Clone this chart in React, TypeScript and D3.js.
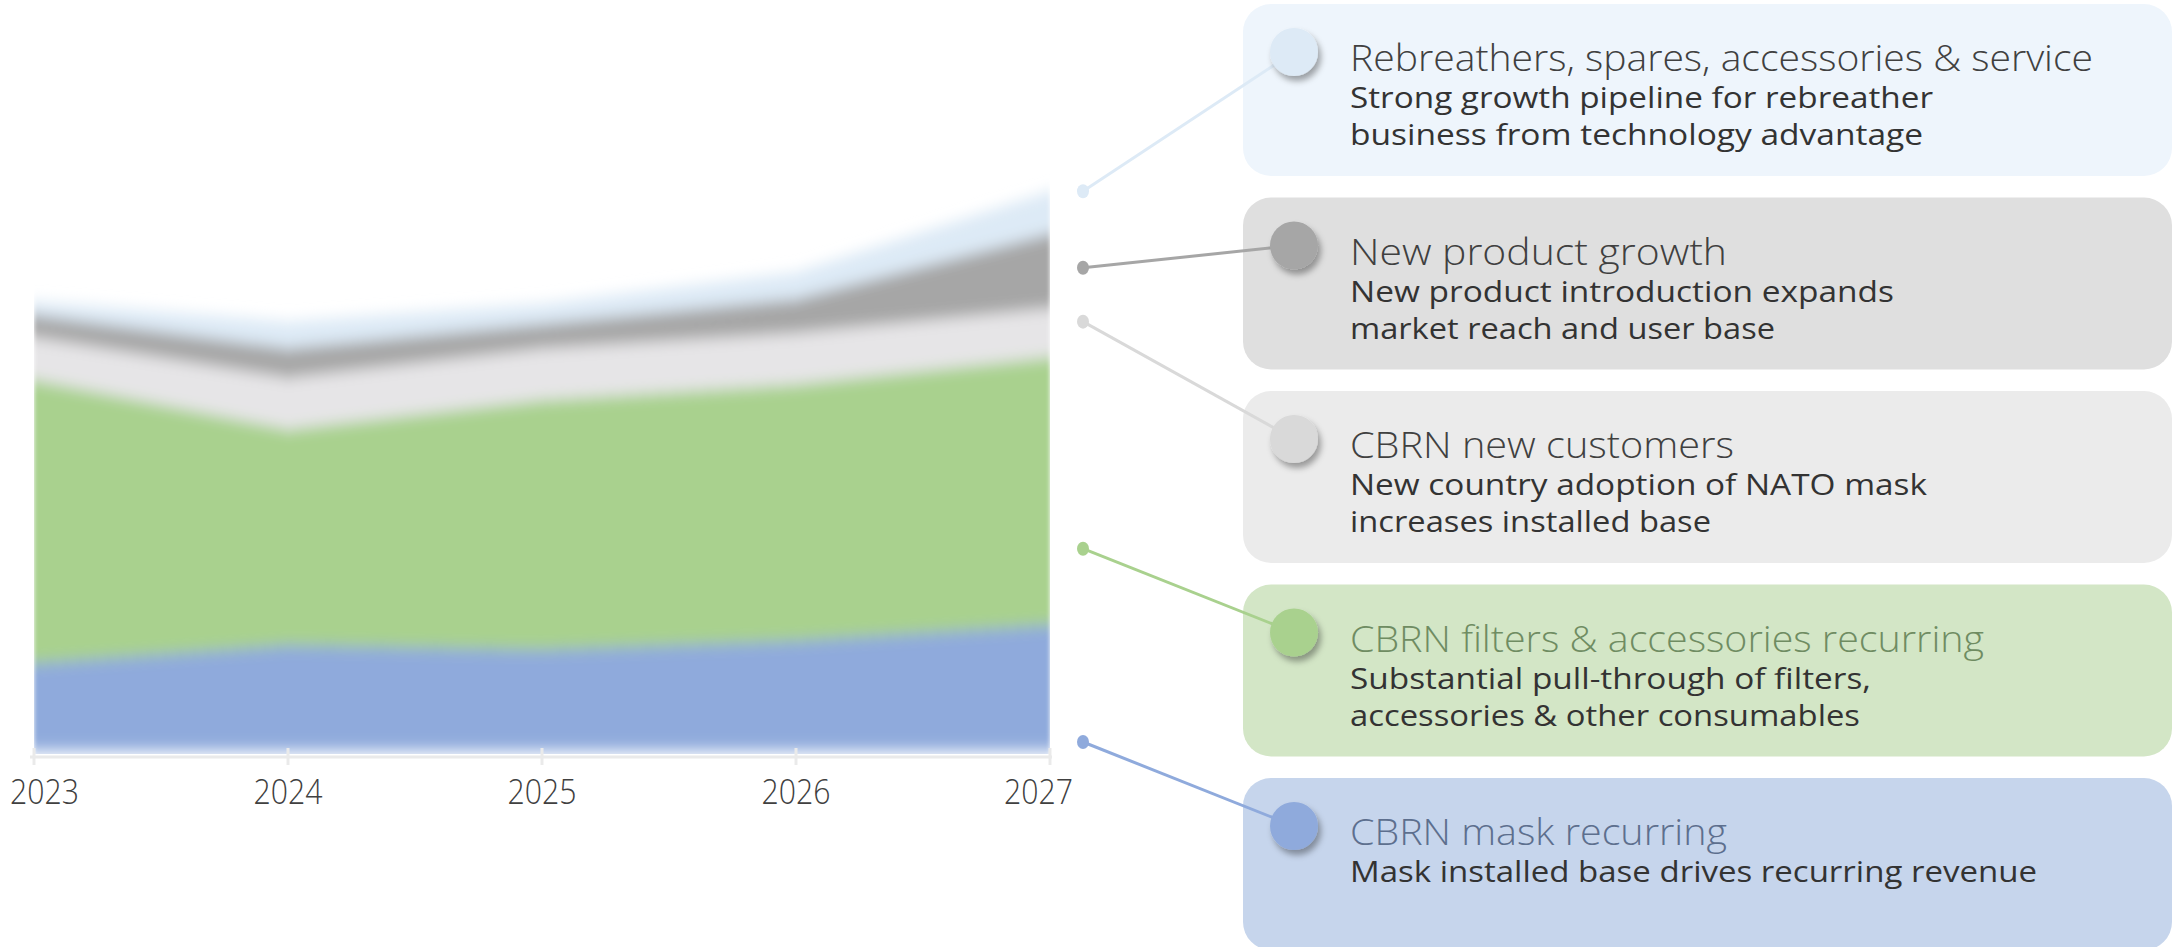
import React from 'react';
import * as d3 from 'd3';

// values (arbitrary revenue units), bottom of stack first
const years = [2023, 2024, 2025, 2026, 2027];
const maskRecurring = [19.5, 23.5, 22.5, 24.5, 28];
const filtersRecurring = [63, 48, 55.5, 57, 59.5];
const newCustomers = [9.5, 11.5, 11.5, 11.5, 11];
const newProduct = [5, 6.5, 5.5, 7.5, 16.5];
const rebreathers = [3, 6, 4.5, 6, 9.5];

// legend, top to bottom
const legendTitles = [
  'Rebreathers, spares, accessories & service',
  'New product growth',
  'CBRN new customers',
  'CBRN filters & accessories recurring',
  'CBRN mask recurring',
];
const legendText = [
  ['Strong growth pipeline for rebreather', 'business from technology advantage'],
  ['New product introduction expands', 'market reach and user base'],
  ['New country adoption of NATO mask', 'increases installed base'],
  ['Substantial pull-through of filters,', 'accessories & other consumables'],
  ['Mask installed base drives recurring revenue'],
];
// where each leader line starts on the 2027 edge, in data units
const anchorValues = [124.5, 107.5, 95.5, 45, 2];

const keys = ['mask', 'filters', 'newCustomers', 'newProduct', 'rebreathers'];
const areaColors = ['#8FAADC', '#A9D18E', '#E6E5E7', '#A6A6A6', '#DDEAF6'];

// legend styles (top to bottom)
const legendColors = ['#DDEAF6', '#A6A6A6', '#D9D9D9', '#A9D18E', '#8FAADC'];
const boxFills = ['#EEF5FC', '#DFDFDF', '#EBEBEB', '#D3E6C6', '#C6D5EC'];
const titleFills = ['#404040', '#404040', '#404040', '#6F8C62', '#5D6F8E'];
const titleWidths = [743, 377, 384, 634, 377];
const textWidths = [[583, 573], [544, 425], [577, 361], [521, 510], [687]];

const W = 2176;
const H = 947;

export default function App() {
  const x = d3.scaleLinear().domain([2023, 2027]).range([34, 1050]);
  const y = d3.scaleLinear().domain([0, 125]).range([751, 189]);

  const table = years.map((yr, i) => ({
    year: yr,
    mask: maskRecurring[i],
    filters: filtersRecurring[i],
    newCustomers: newCustomers[i],
    newProduct: newProduct[i],
    rebreathers: rebreathers[i],
  }));
  const stacked = d3.stack<any>().keys(keys)(table);
  const area = d3
    .area<any>()
    .x((d) => x(d.data.year))
    .y0((d) => y(d[0]))
    .y1((d) => y(d[1]));

  const labelW = 69;
  const labelX = (yr: number) =>
    Math.max(10 + labelW / 2, Math.min(1073 - labelW / 2, x(yr)));

  const font = '"Open Sans", "Noto Sans", sans-serif';
  const dotX = x(2027) + 33;

  return (
    <svg
      width={W}
      height={H}
      style={{ position: 'absolute', left: 0, top: 0, display: 'block', background: '#fff' }}
    >
      <defs>
        <filter id="soft" filterUnits="userSpaceOnUse" x={0} y={0} width={W} height={H}>
          <feGaussianBlur stdDeviation="2 7.5" />
        </filter>
        <clipPath id="plot">
          <rect x={x(2023)} y={0} width={x(2027) - x(2023)} height={754} />
        </clipPath>
        <filter id="shadow" x="-50%" y="-50%" width="200%" height="200%">
          <feDropShadow dx={3} dy={5} stdDeviation={3} floodColor="#000" floodOpacity={0.35} />
        </filter>
      </defs>

      {/* stacked areas, feathered */}
      <g clipPath="url(#plot)">
        <g filter="url(#soft)">
          {stacked.map((s, i) => (
            <path key={s.key} d={area(s) || ''} fill={areaColors[i]} />
          ))}
        </g>
      </g>

      {/* axis */}
      <line x1={x(2023) - 4} x2={x(2027) + 2} y1={757} y2={757} stroke="#EAEAEA" strokeWidth={3} />
      {years.map((yr) => (
        <line key={yr} x1={x(yr)} x2={x(yr)} y1={748} y2={765} stroke="#EAEAEA" strokeWidth={3} />
      ))}
      {years.map((yr) => (
        <text
          key={'l' + yr}
          x={labelX(yr)}
          y={804}
          textAnchor="middle"
          fontFamily={font}
          fontSize={35}
          fontWeight={300}
          fill="#404040"
          textLength={labelW}
          lengthAdjust="spacingAndGlyphs"
        >
          {yr}
        </text>
      ))}

      {/* legend boxes */}
      {legendTitles.map((t, i) => {
        const top = 4 + i * 193.5;
        return <rect key={'b' + i} x={1243} y={top} width={929} height={172} rx={28} fill={boxFills[i]} />;
      })}

      {/* leader lines */}
      {legendTitles.map((t, i) => {
        const top = 4 + i * 193.5;
        return (
          <line
            key={'ln' + i}
            x1={dotX}
            y1={y(anchorValues[i])}
            x2={1294}
            y2={top + 48}
            stroke={legendColors[i]}
            strokeWidth={3}
          />
        );
      })}
      {legendTitles.map((t, i) => (
        <ellipse key={'d' + i} cx={dotX} cy={y(anchorValues[i])} rx={6} ry={7} fill={legendColors[i]} />
      ))}

      {/* big markers and text */}
      {legendTitles.map((t, i) => {
        const top = 4 + i * 193.5;
        return (
          <g key={'t' + i}>
            <circle cx={1294} cy={top + 48} r={24} fill={legendColors[i]} filter="url(#shadow)" />
            <text
              x={1350}
              y={top + 67}
              fontFamily={font}
              fontSize={37}
              fontWeight={300}
              fill={titleFills[i]}
              textLength={titleWidths[i]}
              lengthAdjust="spacingAndGlyphs"
            >
              {t}
            </text>
            {legendText[i].map((line, j) => (
              <text
                key={j}
                x={1350}
                y={top + 104 + j * 37}
                fontFamily={font}
                fontSize={29}
                fill="#333333"
                textLength={textWidths[i][j]}
                lengthAdjust="spacingAndGlyphs"
              >
                {line}
              </text>
            ))}
          </g>
        );
      })}
    </svg>
  );
}
